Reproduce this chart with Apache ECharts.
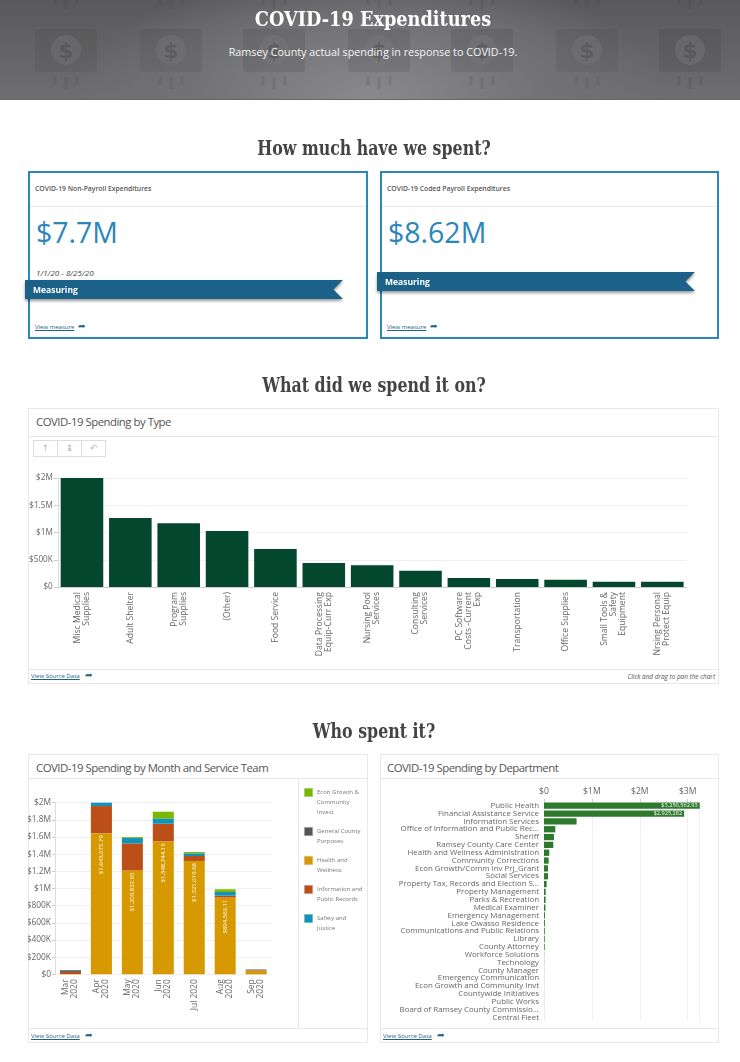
<!DOCTYPE html>
<html>
<head>
<meta charset="utf-8">
<title>COVID-19 Expenditures</title>
<script src="https://cdn.jsdelivr.net/npm/echarts@6/dist/echarts.min.js"></script>
<style>
  html, body { margin: 0; padding: 0; background: #fff; overflow: hidden; }
  body { position: relative; width: 740px; height: 1062px; font-family: "Open Sans", sans-serif; color: #555; }
  .abs { position: absolute; white-space: nowrap; }
  #banner { left: 0; top: 0; width: 740px; height: 100px; overflow: hidden;
    background: radial-gradient(ellipse 300px 130px at 50% 100%, #8a8a8c 0, #727274 60%, rgba(110,110,112,0) 100%), linear-gradient(#59595b, #6e6e70); border-bottom: 1px solid #666; box-sizing: border-box; }
  .slab { font-family: "DejaVu Serif Condensed", "DejaVu Serif", serif; font-weight: bold; }
  .heading { left: 4px; width: 740px; text-align: center; font-size: 20px; line-height: 24px; color: #444; transform: scaleX(0.88); }
  .card { box-sizing: border-box; border: 2px solid #2b86b9; background: #fff; }
  .cardTitle { font-size: 6.8px; font-weight: 600; color: #555; }
  .bigNumber { font-size: 28.5px; line-height: 34px; color: #2b86bb; }
  .ribbonWrap { filter: drop-shadow(0 2px 1.5px rgba(0,0,0,.4)); }
  .ribbon { width: 318px; height: 19px; background: #1c6288; color: #fff; font-size: 8.5px; font-weight: 700; line-height: 20px; box-sizing: border-box; padding-left: 8px;
    clip-path: polygon(0 0, 100% 0, 97% 50%, 100% 100%, 0 100%); }
  .link { font-size: 6px; color: #1c6288; text-decoration: underline; }
  .arrow { font-size: 8.5px; line-height: 6px; color: #1c6288; text-decoration: none; display: inline-block; margin-left: 4px; }
  .panel { box-sizing: border-box; border: 1px solid #e8e8e8; background: #fff; }
  .panelTitle { font-size: 11.4px; color: #555; letter-spacing: -0.5px; }
  .rule { background: #e8e8e8; }
  .toolBtn { box-sizing: border-box; width: 25px; height: 17px; border: 1px solid #ddd; color: #bbb; font-family: "DejaVu Sans"; font-size: 9px; line-height: 15px; text-align: center; }
  .chart { position: absolute; }
</style>
</head>
<body>
<div id="banner" class="abs">
  <svg id="bannerArt" width="740" height="100" style="position:absolute;left:0;top:0"></svg>
  <div class="abs slab" style="left:3px;width:740px;text-align:center;top:6px;font-size:20.5px;line-height:27px;color:#fff;transform:scaleX(0.96)">COVID-19 Expenditures</div>
  <div class="abs" style="left:3px;width:740px;text-align:center;top:43px;font-size:10.8px;line-height:18px;color:#f4f4f4">Ramsey County actual spending in response to COVID-19.</div>
</div>

<div class="abs slab heading" style="top:136px">How much have we spent?</div>

<div class="abs card" style="left:28px;top:171px;width:340px;height:168px"></div>
<div class="abs rule" style="left:30px;top:206px;width:336px;height:1px"></div>
<div class="abs cardTitle" style="left:35px;top:184px">COVID-19 Non-Payroll Expenditures</div>
<div class="abs bigNumber" style="left:36px;top:215px">$7.7M</div>
<div class="abs" style="left:36px;top:267px;font-size:8px;font-style:italic;color:#444">1/1/20 - 8/25/20</div>
<div class="abs ribbonWrap" style="left:25px;top:280px"><div class="ribbon">Measuring</div></div>
<div class="abs link" style="left:35px;top:323px">View measure<span class="arrow">➦</span></div>

<div class="abs card" style="left:380px;top:171px;width:339px;height:168px"></div>
<div class="abs rule" style="left:382px;top:206px;width:335px;height:1px"></div>
<div class="abs cardTitle" style="left:387px;top:184px">COVID-19 Coded Payroll Expenditures</div>
<div class="abs bigNumber" style="left:388px;top:215px">$8.62M</div>
<div class="abs ribbonWrap" style="left:377px;top:272px"><div class="ribbon">Measuring</div></div>
<div class="abs link" style="left:387px;top:323px">View measure<span class="arrow">➦</span></div>

<div class="abs slab heading" style="top:373px">What did we spend it on?</div>

<div class="abs panel" style="left:28px;top:408px;width:691px;height:276px"></div>
<div class="abs rule" style="left:29px;top:436px;width:689px;height:1px"></div>
<div class="abs rule" style="left:29px;top:669px;width:689px;height:1px"></div>
<div class="abs panelTitle" style="left:36px;top:414px">COVID-19 Spending by Type</div>
<div class="abs toolBtn" style="left:33px;top:440px">↑</div>
<div class="abs toolBtn" style="left:57px;top:440px">↨</div>
<div class="abs toolBtn" style="left:81px;top:440px">↶</div>
<div id="typeChart" class="chart" style="left:28px;top:460px;width:691px;height:208px"></div>
<div class="abs link" style="left:31px;top:672px">View Source Data<span class="arrow" style="margin-left:5px">➦</span></div>
<div class="abs" style="right:25px;top:672px;font-size:6.4px;font-style:italic;color:#555">Click and drag to pan the chart</div>

<div class="abs slab heading" style="top:719px">Who spent it?</div>

<div class="abs panel" style="left:28px;top:754px;width:340px;height:289px"></div>
<div class="abs rule" style="left:29px;top:778px;width:338px;height:1px"></div>
<div class="abs rule" style="left:29px;top:1028px;width:338px;height:1px"></div>
<div class="abs rule" style="left:298px;top:779px;width:1px;height:249px"></div>
<div class="abs panelTitle" style="left:36px;top:760px">COVID-19 Spending by Month and Service Team</div>
<div id="monthChart" class="chart" style="left:28px;top:779px;width:340px;height:249px"></div>
<div class="abs link" style="left:31px;top:1032px">View Source Data<span class="arrow" style="margin-left:5px">➦</span></div>

<div class="abs panel" style="left:380px;top:754px;width:339px;height:289px"></div>
<div class="abs rule" style="left:381px;top:778px;width:337px;height:1px"></div>
<div class="abs rule" style="left:381px;top:1028px;width:337px;height:1px"></div>
<div class="abs panelTitle" style="left:387px;top:760px">COVID-19 Spending by Department</div>
<div id="deptChart" class="chart" style="left:380px;top:779px;width:339px;height:249px"></div>
<div class="abs link" style="left:383px;top:1032px">View Source Data<span class="arrow" style="margin-left:5px">➦</span></div>

<script>
// Spending by type
const typeLabels = [
  "Misc Medical\nSupplies", "Adult Shelter", "Program\nSupplies", "(Other)", "Food Service",
  "Data Processing\nEquip-Curr Exp", "Nursing Pool\nServices", "Consulting\nServices",
  "PC Software\nCosts -Current\nExp", "Transportation", "Office Supplies",
  "Small Tools &\nSafety\nEquipment", "Nrsing Personal\nProtect Equip",
];
const typeValues = [2005000, 1266000, 1168000, 1027000, 697000, 440000, 398000, 300000, 165000, 147000, 135000, 98000, 98000];

// Spending by month, one list per service team
const months = ["Mar\n2020", "Apr\n2020", "May\n2020", "Jun\n2020", "Jul 2020", "Aug\n2020", "Sep\n2020"];
const healthWellness = [2000, 1645075.79, 1209837.65, 1548744.15, 1321019.68, 894563.11, 44000];
const infoRecords = [37000, 316000, 316000, 206000, 58000, 22000, 3000];
const safetyJustice = [11000, 58000, 62000, 62000, 31000, 43000, 0];
const generalCounty = [0, 0, 2000, 0, 0, 0, 9000];
const econGrowth = [0, 16000, 10000, 78000, 15000, 31000, 0];
const monthTicks = { min: 0, max: 2000000, step: 200000 };

// Spending by department
const departments = [
  "Public Health", "Financial Assistance Service", "Information Services",
  "Office of Information and Public Rec…", "Sheriff", "Ramsey County Care Center",
  "Health and Wellness Administration", "Community Corrections", "Econ Growth/Comm Inv Prj_Grant",
  "Social Services", "Property Tax, Records and Election S…", "Property Management",
  "Parks & Recreation", "Medical Examiner", "Emergency Management", "Lake Owasso Residence",
  "Communications and Public Relations", "Library", "County Attorney", "Workforce Solutions",
  "Technology", "County Manager", "Emergency Communication", "Econ Growth and Community Invt",
  "Countywide Initiatives", "Public Works", "Board of Ramsey County Commissio…", "Central Fleet",
];
const deptValues = [
  3250562.93, 2925282, 680000, 236000, 208000, 194000, 110000, 97000, 83000, 83000, 55000, 35000,
  33000, 30000, 20000, 18000, 16000, 15000, 14000, 3000, 2500, 2000, 1500, 1200, 1000, 800, 500, 300,
];

const axisFont = '"Open Sans", sans-serif';
const textGray = "#666";
const gridGray = "#f0f0f0";
const axisGray = "#ccc";

function moneyShort(v) {
  if (v >= 1000000) return "$" + v / 1000000 + "M";
  if (v >= 1000) return "$" + v / 1000 + "K";
  return "$" + v;
}
function moneyFull(v) {
  return "$" + v.toLocaleString("en-US", { maximumFractionDigits: 2 });
}

// banner decoration, same bill icon repeated
const billCenters = [66, 171, 274, 379, 482, 587, 690];
document.getElementById("bannerArt").innerHTML = billCenters.map((x, i) => {
  const a = i == 1 || i == 5 || i == 0 ? 0.1 : 0.13;
  const dashes = (top, h) => [-11, 0, 11].map((d) =>
    `<rect x="${x + d - 1.5}" y="${d == 0 ? top + 1 : top}" width="3" height="${d == 0 ? h + 3 : h}" fill="rgba(50,50,52,${a})"/>`).join("");
  return `<rect x="${x - 31}" y="29" width="62" height="43" rx="3" fill="rgba(50,50,52,${a})"/>` +
    `<circle cx="${x}" cy="50" r="15" fill="rgba(120,120,122,${a + 0.3})"/>` +
    `<text x="${x}" y="58" text-anchor="middle" font-family="DejaVu Sans" font-weight="bold" font-size="22" fill="rgba(55,55,57,${a + 0.2})">$</text>` +
    dashes(76, 9) + dashes(-2, 7);
}).join("");

// chart 1
const typeChart = echarts.init(document.getElementById("typeChart"));
typeChart.setOption({
  animation: false,
  textStyle: { fontFamily: axisFont },
  grid: { left: 29.8, width: 628.7, top: 18, height: 109, outerBoundsMode: "none" },
  xAxis: {
    type: "category",
    data: typeLabels,
    axisLine: { lineStyle: { color: axisGray } },
    axisTick: { alignWithLabel: true, length: 4, lineStyle: { color: axisGray } },
    axisLabel: { rotate: 90, interval: 0, fontSize: 8.6, lineHeight: 9, color: textGray, margin: 5 },
  },
  yAxis: {
    type: "value",
    min: 0,
    max: 2000000,
    interval: 500000,
    axisLine: { show: true, lineStyle: { color: "#ddd" } },
    axisTick: { show: true, length: 4, lineStyle: { color: axisGray } },
    axisLabel: { formatter: moneyShort, fontSize: 8.2, color: textGray, margin: 5 },
    splitLine: { lineStyle: { color: gridGray } },
  },
  series: [{
    type: "bar",
    data: typeValues,
    barCategoryGap: "12%",
    itemStyle: { color: "#04472f" },
  }],
});

// chart 2
const monthSeries = [
  { name: "Health and Wellness", data: healthWellness, color: "#d69a00" },
  { name: "Information and Public Records", data: infoRecords, color: "#bc4f17" },
  { name: "Safety and Justice", data: safetyJustice, color: "#0f94b8" },
  { name: "General County Purposes", data: generalCounty, color: "#555555" },
  { name: "Econ Growth & Community Invest", data: econGrowth, color: "#7ab800" },
];
const legendRows = [
  { lines: "Econ Growth &\nCommunity\nInvest", color: "#7ab800", y: 9 },
  { lines: "General County\nPurposes", color: "#555555", y: 48 },
  { lines: "Health and\nWellness", color: "#d69a00", y: 77 },
  { lines: "Information and\nPublic Records", color: "#bc4f17", y: 106 },
  { lines: "Safety and\nJustice", color: "#0f94b8", y: 135 },
];
const monthChart = echarts.init(document.getElementById("monthChart"));
monthChart.setOption({
  animation: false,
  textStyle: { fontFamily: axisFont },
  grid: { left: 27, width: 216.6, top: 23.7, height: 171.6, outerBoundsMode: "none" },
  xAxis: {
    type: "category",
    data: months,
    axisLine: { show: false },
    axisTick: { alignWithLabel: true, length: 4, lineStyle: { color: axisGray } },
    axisLabel: { rotate: 90, interval: 0, fontSize: 8.4, lineHeight: 9, color: textGray, margin: 5 },
  },
  yAxis: {
    type: "value",
    min: monthTicks.min,
    max: monthTicks.max,
    interval: monthTicks.step,
    axisLine: { show: true, lineStyle: { color: "#ddd" } },
    axisTick: { show: true, length: 3, lineStyle: { color: axisGray } },
    axisLabel: { formatter: moneyShort, fontSize: 8.4, color: textGray, margin: 4 },
    splitLine: { lineStyle: { color: gridGray } },
  },
  series: monthSeries.map((s, i) => ({
    type: "bar",
    name: s.name,
    stack: "month",
    data: s.data,
    barCategoryGap: "32%",
    itemStyle: { color: s.color },
    label: i == 0 ? {
      show: true,
      position: "insideTop",
      distance: 2,
      rotate: 90,
      align: "right",
      verticalAlign: "middle",
      fontSize: 6,
      color: "#fff",
      formatter: (p) => (p.value > 500000 ? moneyFull(p.value) : ""),
    } : { show: false },
  })),
  graphic: legendRows.flatMap((r) => [
    { type: "rect", left: 276, top: r.y, shape: { width: 8.5, height: 8.5 }, style: { fill: r.color, stroke: "#ccc", lineWidth: 0.5 } },
    { type: "text", left: 289, top: r.y - 1, style: { text: r.lines, fontSize: 6, lineHeight: 10, fill: "#777", fontFamily: axisFont } },
  ]),
});

// chart 3
const deptChart = echarts.init(document.getElementById("deptChart"));
deptChart.setOption({
  animation: false,
  textStyle: { fontFamily: axisFont },
  grid: { left: 164, width: 155.7, top: 22.8, height: 219.4, outerBoundsMode: "none" },
  xAxis: {
    type: "value",
    position: "top",
    min: 0,
    max: 3250562.93,
    interval: 1000000,
    axisLine: { show: false },
    axisTick: { show: true, length: 3, lineStyle: { color: axisGray } },
    axisLabel: { formatter: moneyShort, fontSize: 8.6, color: textGray, margin: 6, showMaxLabel: false },
    splitLine: { lineStyle: { color: gridGray } },
  },
  yAxis: {
    type: "category",
    inverse: true,
    data: departments,
    axisLine: { show: false },
    axisTick: { alignWithLabel: true, length: 2, interval: (i) => i % 2 == 1, lineStyle: { color: axisGray } },
    axisLabel: { interval: 0, fontSize: 7.9, color: textGray, margin: 5 },
  },
  series: [{
    type: "bar",
    data: deptValues,
    barCategoryGap: "20%",
    itemStyle: { color: "#2d7a2d" },
    label: {
      show: true,
      position: "insideRight",
      distance: 2,
      fontSize: 5.6,
      color: "#fff",
      formatter: (p) => (p.value > 1000000 ? moneyFull(p.value) : ""),
    },
  }],
});
</script>
</body>
</html>
